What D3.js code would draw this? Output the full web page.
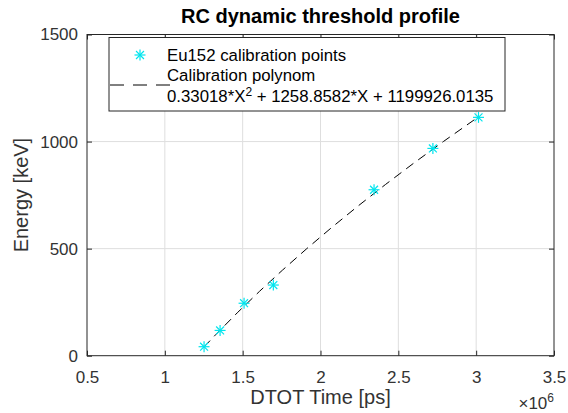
<!DOCTYPE html>
<html>
<head>
<meta charset="utf-8">
<script src="https://cdn.jsdelivr.net/npm/d3@7"></script>
<style>
  body { margin: 0; background: #fff; }
  svg { display: block; font-family: "Liberation Sans", Arial, sans-serif; }
</style>
</head>
<body>
<svg id="chart" width="568" height="413"></svg>
<script>
// Eu152 calibration points (DTOT in ps, energy in keV)
var dtotPoints = [1.252e6, 1.355e6, 1.509e6, 1.697e6, 2.344e6, 2.722e6, 3.015e6];
var energyPoints = [42, 118, 245, 330, 775, 968, 1113];

// calibration polynom curve, sampled along energy
var curveEnergy = [40, 100, 200, 300, 400, 500, 600, 700, 800, 900, 1000, 1112];
var curveDtot = [1.2508e6, 1.3291e6, 1.4649e6, 1.6073e6, 1.7563e6, 1.9119e6,
                 2.0741e6, 2.2429e6, 2.4183e6, 2.6003e6, 2.7890e6, 3.0081e6];

var xTicks = [0.5e6, 1e6, 1.5e6, 2e6, 2.5e6, 3e6, 3.5e6];
var xTickLabels = ["0.5", "1", "1.5", "2", "2.5", "3", "3.5"];
var yTicks = [0, 500, 1000, 1500];
var yTickLabels = ["0", "500", "1000", "1500"];

var svg = d3.select("#chart");
var axisColor = "#262626";

// plot box (note: "top" is reserved on window, so use m*)
var mLeft = 87, mRight = 554, mTop = 34.5, mBottom = 355.7;

var x = d3.scaleLinear().domain([0.5e6, 3.5e6]).range([mLeft, mRight]);
var y = d3.scaleLinear().domain([0, 1500]).range([mBottom, mTop]);

// grid
svg.append("g").selectAll("line")
  .data(xTicks.slice(1, -1))
  .enter().append("line")
  .attr("x1", d => x(d)).attr("x2", d => x(d))
  .attr("y1", mTop).attr("y2", mBottom)
  .attr("stroke", "#dedede").attr("stroke-width", 1);
svg.append("g").selectAll("line")
  .data(yTicks.slice(1, -1))
  .enter().append("line")
  .attr("x1", mLeft).attr("x2", mRight)
  .attr("y1", d => y(d)).attr("y2", d => y(d))
  .attr("stroke", "#dedede").attr("stroke-width", 1);

// axes with inward ticks
var xAxis = svg.append("g").attr("transform", "translate(0," + mBottom + ")")
  .call(d3.axisBottom(x).tickValues(xTicks).tickSizeInner(-5).tickSizeOuter(0).tickPadding(15)
    .tickFormat((d, i) => xTickLabels[i]));
var yAxis = svg.append("g").attr("transform", "translate(" + mLeft + ",0)")
  .call(d3.axisLeft(y).tickValues(yTicks).tickSizeInner(-5).tickSizeOuter(0).tickPadding(9)
    .tickFormat((d, i) => yTickLabels[i]));
[xAxis, yAxis].forEach(function(a) {
  a.select(".domain").remove();
  a.selectAll("line").attr("stroke", axisColor);
  a.selectAll("text").attr("fill", "#333").style("font-size", "17px")
    .style("font-family", "Liberation Sans, Arial, sans-serif");
});
// top and right mirrored ticks
svg.append("g").attr("transform", "translate(0," + mTop + ")")
  .call(d3.axisTop(x).tickValues(xTicks).tickSizeInner(-5).tickSizeOuter(0).tickFormat(""))
  .call(g => { g.select(".domain").remove(); g.selectAll("line").attr("stroke", axisColor); });
svg.append("g").attr("transform", "translate(" + mRight + ",0)")
  .call(d3.axisRight(y).tickValues(yTicks).tickSizeInner(-5).tickSizeOuter(0).tickFormat(""))
  .call(g => { g.select(".domain").remove(); g.selectAll("line").attr("stroke", axisColor); });

// box
svg.append("rect")
  .attr("x", mLeft).attr("y", mTop)
  .attr("width", mRight - mLeft).attr("height", mBottom - mTop)
  .attr("fill", "none").attr("stroke", axisColor).attr("stroke-width", 1);

// curve
var line = d3.line().x((d, i) => x(curveDtot[i])).y(d => y(d));
svg.append("path")
  .datum(curveEnergy)
  .attr("d", line)
  .attr("fill", "none")
  .attr("stroke", "#000")
  .attr("stroke-width", 1)
  .attr("stroke-dasharray", "9,6");

// star markers
function star(g, cx, cy, r) {
  var d = r * 0.72;
  var segs = [[-r, 0, r, 0], [0, -r, 0, r], [-d, -d, d, d], [-d, d, d, -d]];
  segs.forEach(function(s) {
    g.append("line")
      .attr("x1", cx + s[0]).attr("y1", cy + s[1])
      .attr("x2", cx + s[2]).attr("y2", cy + s[3])
      .attr("stroke", "#00e5ee").attr("stroke-width", 1.2);
  });
}
var pts = svg.append("g");
dtotPoints.forEach(function(d, i) { star(pts, x(d), y(energyPoints[i]), 5.5); });

// title
svg.append("text")
  .attr("x", (mLeft + mRight) / 2).attr("y", 23)
  .attr("text-anchor", "middle")
  .style("font-size", "20px").style("font-weight", "bold")
  .attr("fill", "#000")
  .text("RC dynamic threshold profile");

// axis labels
svg.append("text")
  .attr("x", (mLeft + mRight) / 2).attr("y", 404)
  .attr("text-anchor", "middle")
  .style("font-size", "20px").attr("fill", "#333")
  .text("DTOT Time [ps]");
svg.append("text")
  .attr("transform", "translate(28," + ((mTop + mBottom) / 2) + ") rotate(-90)")
  .attr("text-anchor", "middle")
  .style("font-size", "20px").attr("fill", "#333")
  .text("Energy [keV]");

// exponent
var ex = svg.append("text")
  .attr("x", mRight).attr("y", 409)
  .attr("text-anchor", "end")
  .style("font-size", "17px").attr("fill", "#333");
ex.append("tspan").text("\u00d710");
ex.append("tspan").attr("dy", -7).style("font-size", "12px").text("6");

// legend
var leg = svg.append("g");
leg.append("rect")
  .attr("x", 109).attr("y", 37.5)
  .attr("width", 396).attr("height", 73.5)
  .attr("fill", "#fff").attr("stroke", axisColor).attr("stroke-width", 1);
star(leg, 140, 55, 5.5);
leg.append("line")
  .attr("x1", 110).attr("x2", 171).attr("y1", 85).attr("y2", 85)
  .attr("stroke", "#000").attr("stroke-width", 1)
  .attr("stroke-dasharray", "14,9");
var legText = [
  { y: 61, t: "Eu152 calibration points" },
  { y: 81, t: "Calibration polynom" }
];
legText.forEach(function(r) {
  leg.append("text").attr("x", 167).attr("y", r.y)
    .style("font-size", "16.8px").attr("fill", "#000").text(r.t);
});
var poly = leg.append("text").attr("x", 167).attr("y", 101.5)
  .style("font-size", "16.8px").attr("fill", "#000");
poly.append("tspan").text("0.33018*X");
poly.append("tspan").attr("dy", -6).style("font-size", "12px").text("2");
poly.append("tspan").attr("dy", 6).text(" + 1258.8582*X + 1199926.0135");
</script>
</body>
</html>
